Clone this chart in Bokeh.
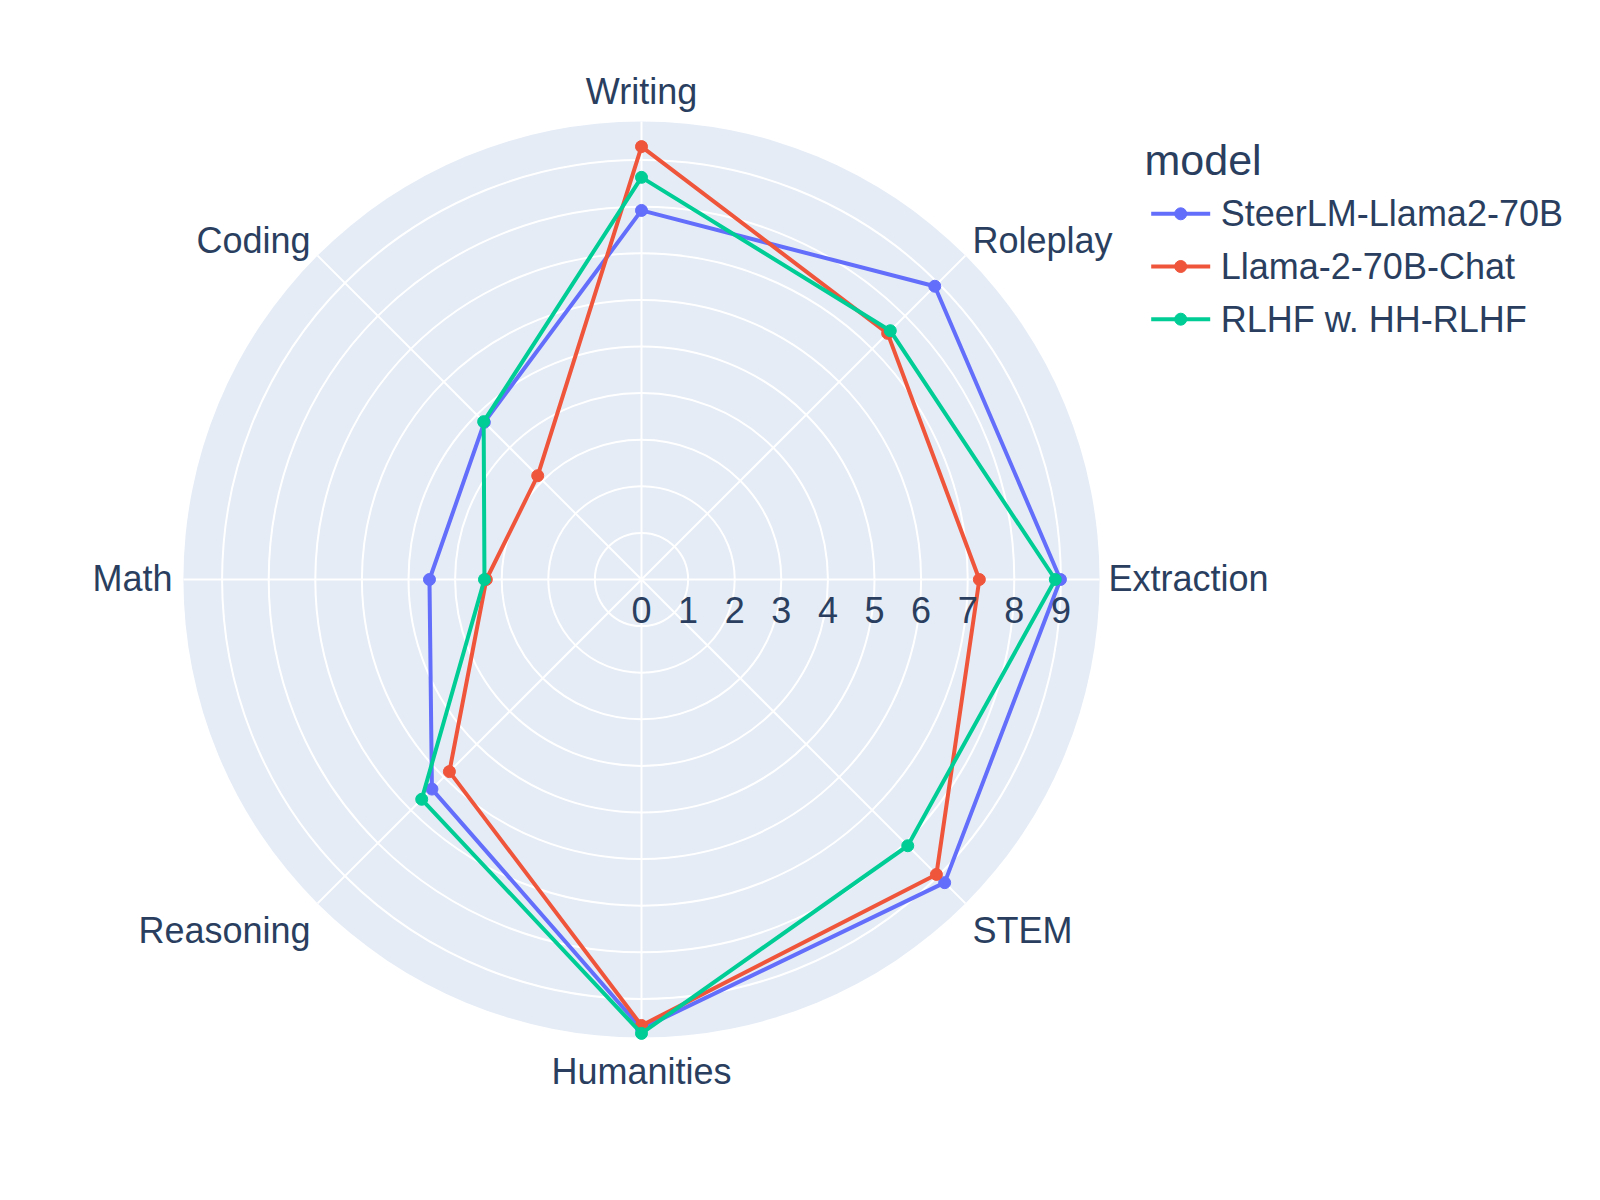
import math
from bokeh.plotting import figure
from bokeh.models import Range1d
from bokeh.embed import file_html
from bokeh.resources import INLINE
from bokeh.core.properties import value

# ---------------- data ----------------
categories = ["Writing", "Roleplay", "Extraction", "STEM", "Humanities", "Reasoning", "Math", "Coding"]
models = ["SteerLM-Llama2-70B", "Llama-2-70B-Chat", "RLHF w. HH-RLHF"]
steerlm = [7.92, 8.90, 8.99, 9.20, 9.64, 6.36, 4.55, 4.77]
llama = [9.29, 7.47, 7.25, 8.95, 9.57, 5.83, 3.33, 3.15]
rlhf = [8.63, 7.55, 8.88, 8.08, 9.74, 6.67, 3.37, 4.79]
radial_ticks = [0, 1, 2, 3, 4, 5, 6, 7, 8, 9]
radial_max = 9.83
legend_title = "model"

series = [steerlm, llama, rlhf]
colors = ["#636EFA", "#EF553B", "#00CC96"]
TEXT = "#2a3f5f"
FONT = value("Liberation Sans")

# ---------------- layout ----------------
W, H = 1584, 1184
S = 46.6                 # pixels per radial unit
CX, CY = 641, 579        # polar centre in figure pixels
R = radial_max * S       # outer radius in px
TXT_FIX = 0.40           # baseline correction (fraction of font size)

p = figure(width=W, height=H, output_backend="svg", toolbar_location=None,
           x_axis_type=None, y_axis_type=None, min_border=0,
           x_range=Range1d(-CX / S, (W - CX) / S),
           y_range=Range1d(-(H - CY) / S, CY / S))
p.outline_line_color = None
p.background_fill_color = "white"
p.border_fill_color = "white"


def px(xp, yp_screen):
    """pixel offsets from centre (screen y down) -> data units"""
    return xp / S, -yp_screen / S


def label(xp, yp, txt, size, align):
    x, y = px(xp, yp - TXT_FIX * size)
    p.text(x=[x], y=[y], text=[txt], text_font=FONT, text_font_size=f"{size}px",
           text_color=TEXT, text_align=align, text_baseline="alphabetic")


angles = [math.radians(90 - 360 * i / len(categories)) for i in range(len(categories))]

# polar background
p.circle(x=[0], y=[0], radius=radial_max, fill_color="#E5ECF6", line_color=None)
# radial grid circles
for t in radial_ticks[1:]:
    p.circle(x=[0], y=[0], radius=t, fill_color=None, line_color="white", line_width=2)
# angular spokes
p.segment(x0=[0] * len(angles), y0=[0] * len(angles),
          x1=[radial_max * math.cos(a) for a in angles],
          y1=[radial_max * math.sin(a) for a in angles],
          line_color="white", line_width=2)

# traces
for vals, col in zip(series, colors):
    xs = [v * math.cos(a) for v, a in zip(vals, angles)]
    ys = [v * math.sin(a) for v, a in zip(vals, angles)]
    p.line(xs + xs[:1], ys + ys[:1], line_color=col, line_width=4, line_join="round")
    p.scatter(xs, ys, size=12, marker="circle", fill_color=col, line_color=col)

# radial tick labels
for t in radial_ticks:
    label(t * S, 45, str(t), 36, "center")

# angular (category) labels
for cat, a in zip(categories, angles):
    c, s = math.cos(a), math.sin(a)
    if abs(c) < 0.01:
        align, xp = "center", 0.0
    elif c > 0:
        align = "left"
        xp = (R + 9) if abs(s) < 0.01 else (R + 10) * c
    else:
        align = "right"
        xp = -(R + 11) if abs(s) < 0.01 else (R + 10) * c
    if s > 0.99:
        yp = -(R + 16)
    elif s < -0.99:
        yp = R + 48
    elif abs(s) < 0.01:
        yp = 13
    elif s > 0:
        yp = -(R + 17) * s + 11
    else:
        yp = (R + 17) * (-s) + 29
    label(xp, yp, cat, 36, align)

# legend (drawn manually)
label(503, -402, legend_title, 43, "left")
rows = [-365.7, -313.0, -260.3]
for name, col, ry in zip(models, colors, rows):
    x0, y0 = px(509.7, ry)
    x1, _ = px(568.7, ry)
    xm, _ = px(539.2, ry)
    p.line([x0, x1], [y0, y0], line_color=col, line_width=4)
    p.scatter([xm], [y0], size=12, marker="circle", fill_color=col, line_color=col)
    label(579.3, ry + 14.5, name, 36, "left")

open("out.html", "w").write(file_html(p, INLINE))
